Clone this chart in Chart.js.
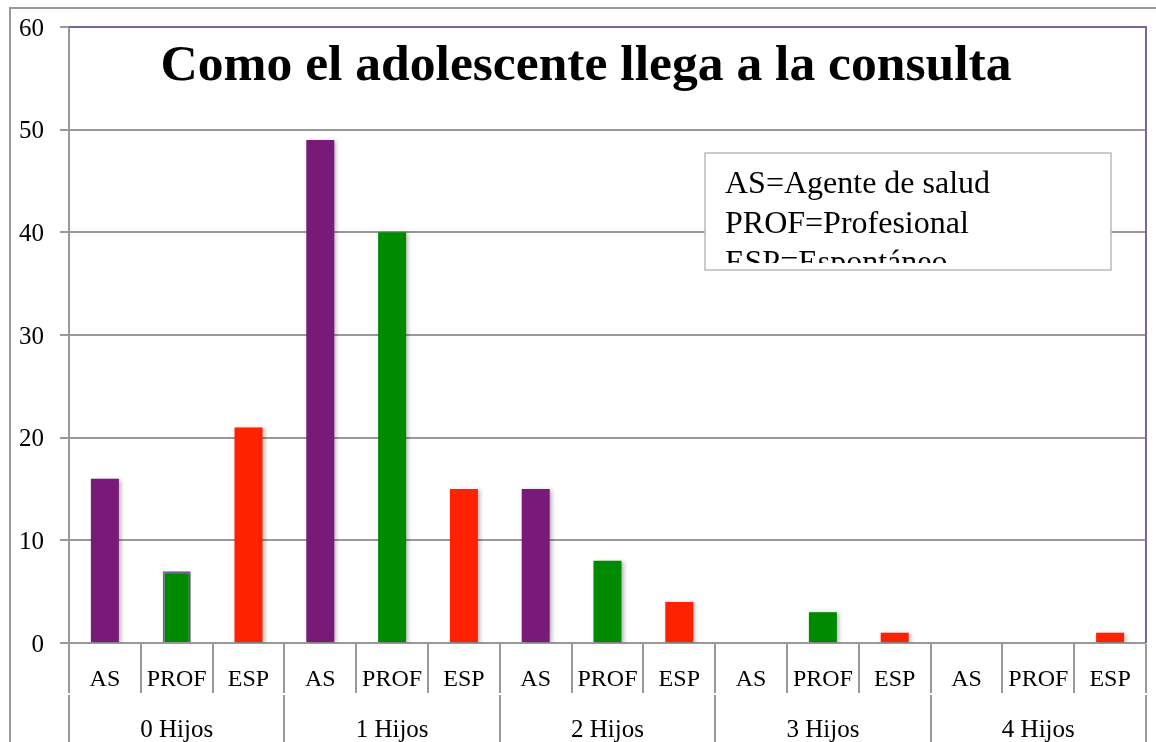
<!DOCTYPE html>
<html>
<head>
<meta charset="utf-8">
<title>Como el adolescente llega a la consulta</title>
<script src="https://cdn.jsdelivr.net/npm/chart.js@4.4.1/dist/chart.umd.min.js"></script>
<style>
  html, body { margin: 0; padding: 0; background: #fff; }
  #wrap { width: 1156px; height: 742px; }
</style>
</head>
<body>
<div id="wrap"><canvas id="chart" width="1156" height="742"></canvas></div>
<script>
// ---- data ----
var groups = ['0 Hijos', '1 Hijos', '2 Hijos', '3 Hijos', '4 Hijos'];
var subs = ['AS', 'PROF', 'ESP'];
var asValues = [16, 49, 15, 0, 0];
var profValues = [7, 40, 8, 3, 0];
var espValues = [21, 15, 4, 1, 1];
var yTicks = [0, 10, 20, 30, 40, 50, 60];
var legendLines = ['AS=Agente de salud', 'PROF=Profesional', 'ESP=Espontáneo'];
var titleText = 'Como el adolescente llega a la consulta';

var subColors = { AS: '#7A1A78', PROF: '#008A00', ESP: '#FF2200' };
var seriesBySub = { AS: asValues, PROF: profValues, ESP: espValues };

// flatten into 15 categories (group x sub)
var labels = [], values = [], colors = [];
groups.forEach(function (g, gi) {
  subs.forEach(function (s) {
    labels.push(s);
    values.push(seriesBySub[s][gi]);
    colors.push(subColors[s]);
  });
});

var SERIF = '"Liberation Serif", "DejaVu Serif", serif';
var GRID = '#999999';
var FRAME = '#7B6497';

function fitFont(ctx, text, weight, width) {
  ctx.font = weight + ' 100px ' + SERIF;
  var w = ctx.measureText(text).width;
  return Math.round(100 * width / w * 10) / 10;
}

var decorPlugin = {
  id: 'decor',
  beforeDraw: function (chart) {
    var ctx = chart.ctx;
    ctx.save();
    ctx.fillStyle = '#fff';
    ctx.fillRect(0, 0, chart.width, chart.height);
    // outer frame (left + top only visible)
    ctx.strokeStyle = GRID;
    ctx.lineWidth = 2;
    ctx.beginPath();
    ctx.moveTo(10, chart.height + 5);
    ctx.lineTo(10, 8);
    ctx.lineTo(chart.width + 5, 8);
    ctx.stroke();
    ctx.restore();
  },
  beforeDatasetsDraw: function (chart) {
    var ctx = chart.ctx;
    ctx.save();
    ctx.shadowColor = 'rgba(0,0,0,0.28)';
    ctx.shadowBlur = 4;
    ctx.shadowOffsetX = 2;
    ctx.shadowOffsetY = 1;
  },
  afterDatasetsDraw: function (chart) {
    chart.ctx.restore();
  },
  afterDraw: function (chart) {
    var ctx = chart.ctx;
    var area = chart.chartArea;
    var x = chart.scales.x;
    ctx.save();

    // purple border on top and right of the plot area
    ctx.strokeStyle = FRAME;
    ctx.lineWidth = 2;
    ctx.beginPath();
    ctx.moveTo(area.left, area.top);
    ctx.lineTo(area.right, area.top);
    ctx.lineTo(area.right, area.bottom);
    ctx.stroke();

    // category boundaries and two-level labels
    var n = labels.length;
    var step = x.getPixelForTick(1) - x.getPixelForTick(0);
    var upperTop = area.bottom + 1, upperBottom = area.bottom + 50;
    var lowerTop = area.bottom + 52, lowerBottom = chart.height;
    ctx.strokeStyle = GRID;
    ctx.lineWidth = 2;
    for (var i = 0; i <= n; i++) {
      var bx = Math.round(x.getPixelForTick(0) - step / 2 + i * step);
      ctx.beginPath();
      ctx.moveTo(bx, upperTop);
      ctx.lineTo(bx, upperBottom);
      if (i % subs.length === 0) {
        ctx.moveTo(bx, lowerTop);
        ctx.lineTo(bx, lowerBottom);
      }
      ctx.stroke();
    }
    ctx.fillStyle = '#000';
    ctx.textAlign = 'center';
    ctx.textBaseline = 'middle';
    ctx.font = '24px ' + SERIF;
    labels.forEach(function (lab, i) {
      ctx.fillText(lab, x.getPixelForTick(i), area.bottom + 37);
    });
    ctx.font = '25px ' + SERIF;
    groups.forEach(function (g, gi) {
      var c = (x.getPixelForTick(gi * 3) + x.getPixelForTick(gi * 3 + 2)) / 2;
      ctx.fillText(g, c, area.bottom + 87);
    });

    // title
    var ts = fitFont(ctx, titleText, 'bold', 852);
    ctx.font = 'bold ' + ts + 'px ' + SERIF;
    ctx.textAlign = 'center';
    ctx.textBaseline = 'alphabetic';
    ctx.fillText(titleText, 586, 80);

    // legend note box, text clipped inside its border
    var bxL = 705, bxT = 153, bxW = 406, bxH = 117;
    ctx.fillStyle = '#fff';
    ctx.fillRect(bxL, bxT, bxW, bxH);
    ctx.save();
    ctx.beginPath();
    ctx.rect(bxL, bxT, bxW, bxH - 7);
    ctx.clip();
    var ls = fitFont(ctx, legendLines[0], 'normal', 265);
    ctx.font = ls + 'px ' + SERIF;
    ctx.fillStyle = '#000';
    ctx.textAlign = 'left';
    legendLines.forEach(function (t, i) {
      ctx.fillText(t, 725, 193 + i * 39.5);
    });
    ctx.restore();
    ctx.strokeStyle = '#BBBBBB';
    ctx.lineWidth = 1.5;
    ctx.strokeRect(bxL, bxT, bxW, bxH);

    ctx.restore();
  }
};

var ctx = document.getElementById('chart').getContext('2d');
new Chart(ctx, {
  type: 'bar',
  data: {
    labels: labels,
    datasets: [{
      data: values,
      backgroundColor: colors,
      borderColor: FRAME,
      borderWidth: function (c) { return c.dataIndex === 1 ? 2 : 0; },
      barPercentage: 0.39,
      categoryPercentage: 1
    }]
  },
  options: {
    responsive: false,
    animation: false,
    layout: { padding: { left: 10, top: 27, right: 10, bottom: 99 } },
    plugins: { legend: { display: false }, tooltip: { enabled: false }, title: { display: false } },
    scales: {
      x: { display: false },
      y: {
        min: yTicks[0],
        max: yTicks[yTicks.length - 1],
        afterFit: function (scale) {
          scale.width = 59;
          scale.paddingTop = 0;
          scale.paddingBottom = 0;
        },
        afterBuildTicks: function (scale) {
          scale.ticks = yTicks.map(function (v) { return { value: v }; });
        },
        grid: { color: GRID, lineWidth: 2, tickLength: 9, drawTicks: true },
        border: { color: GRID, width: 2 },
        ticks: { color: '#000', padding: 16, labelOffset: 2, font: { family: SERIF, size: 25 } }
      }
    }
  },
  plugins: [decorPlugin]
});
</script>
</body>
</html>
